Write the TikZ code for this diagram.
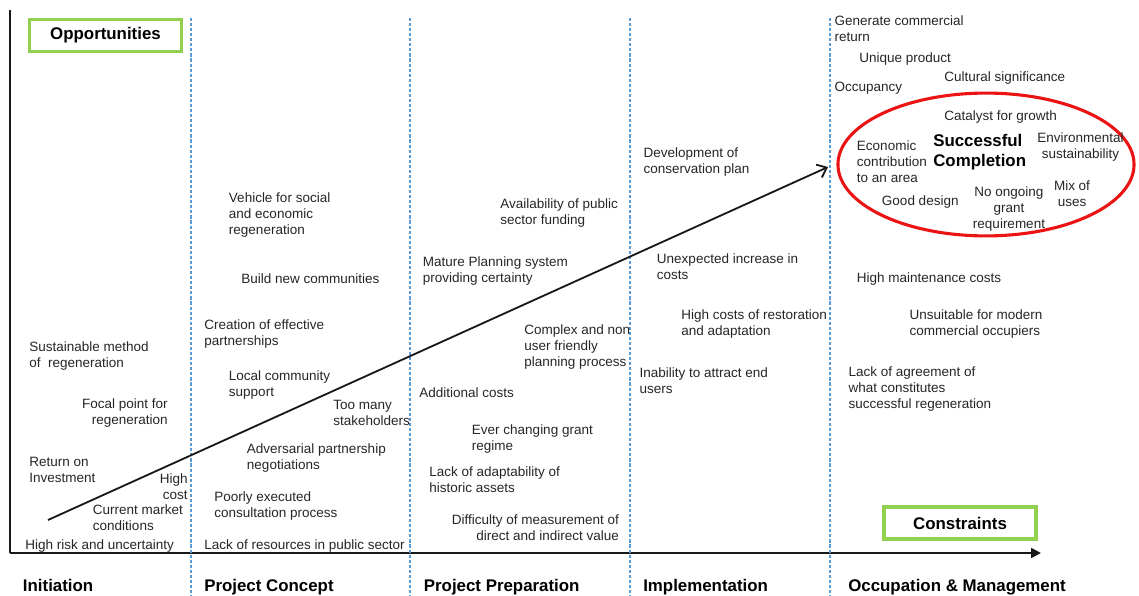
\documentclass[tikz,border=0pt]{standalone}
\usepackage{fontspec}
\setmainfont{Liberation Sans}
\usetikzlibrary{arrows.meta,shapes.geometric}

\definecolor{phaseblue}{RGB}{91,155,213}
\definecolor{taggreen}{RGB}{146,208,80}
\definecolor{goalred}{RGB}{235,20,20}

\begin{document}
\begin{tikzpicture}[x=0.025cm, y=-0.025cm,
    txt/.style={font=\fontsize{9.6}{11.4}\selectfont, text=black!85, inner sep=0pt, anchor=west, align=left, yshift=-0.6pt},
    rtxt/.style={txt, anchor=east, align=right},
    ctxt/.style={txt, anchor=center, align=center},
    phase/.style={font=\fontsize{12}{14}\selectfont\bfseries, inner sep=0pt, anchor=base west},
    tagbox/.style={draw=taggreen, line width=2.2pt, font=\fontsize{12}{14}\selectfont\bfseries, minimum width=3.8cm, minimum height=0.8cm},
    divider/.style={draw=phaseblue, line width=0.9pt, dash pattern=on 2.2pt off 1.4pt},
    axis/.style={line width=1.4pt, black!90},
    trend/.style={line width=1.3pt, black!90, -{Straight Barb[length=6pt,width=10pt]}}]
  \useasboundingbox (0,0) rectangle (1139,596);

  % Osy - time and scale
  \coordinate (top) at (10,10);
  \coordinate (origin) at (10,553);
  \coordinate (xend) at (1041,553);
  \draw[axis] (top) -- (origin);
  \draw[axis, -{Triangle[length=7pt,width=7pt]}] (origin) -- (xend);

  % Phase dividers
  \draw[divider] (191,18) -- (191,596);
  \draw[divider] (410,18) -- (410,596);
  \draw[divider] (630,18) -- (630,596);
  \draw[divider] (830,18) -- (830,596);

  % Tags - Opportunities / Constraints
  \node[tagbox] (opp) at (105.5,35.5) {Opportunities};
  \node[tagbox] (con) at (960,523) {Constraints};

  % Phases
  \node[phase] (ini) at (22.7,591) {Initiation};
  \node[phase] (pcon) at (204,591) {Project Concept};
  \node[phase] (pprep) at (423.6,591) {Project Preparation};
  \node[phase] (impl) at (643,591) {Implementation};
  \node[phase] (occ) at (848,591) {Occupation \& Management};

  % Trend line
  \coordinate (start) at (48,520);
  \coordinate (finish) at (828,167);
  \draw[trend] (start) -- (finish);

  % Initiation
  \node[txt] (sustain) at (29,354.7) {Sustainable method\\of~ regeneration};
  \node[rtxt] (focal) at (168,412.5) {Focal point for\\regeneration};
  \node[txt] (roi) at (29,469.2) {Return on\\Investment};
  \node[rtxt] (highcost) at (188,486) {High\\cost};
  \node[txt] (market) at (92.7,517) {Current market\\conditions};
  \node[txt] (risk) at (25,545) {High risk and uncertainty};

  % Project Concept
  \node[txt] (vehicle) at (228.7,213.8) {Vehicle for social\\and economic\\regeneration};
  \node[txt] (build) at (241,277.7) {Build new communities};
  \node[txt] (creation) at (204,333) {Creation of effective\\partnerships};
  \node[txt] (local) at (228.7,383.8) {Local community\\support};
  \node[txt] (toomany) at (333,412) {Too many\\stakeholders};
  \node[txt] (advers) at (246.7,457) {Adversarial partnership\\negotiations};
  \node[txt] (poorly) at (214,504.8) {Poorly executed\\consultation process};
  \node[txt] (lackres) at (204,545) {Lack of resources in public sector};

  % Project Preparation
  \node[txt] (avail) at (500,212) {Availability of public\\sector funding};
  \node[txt] (mature) at (422.7,269.7) {Mature Planning system\\providing certainty};
  \node[txt] (complex) at (524,346.3) {Complex and non\\user friendly\\planning process};
  \node[txt] (addcost) at (419,391.7) {Additional costs};
  \node[txt] (grant) at (471.7,438) {Ever changing grant\\regime};
  \node[txt] (adapt) at (429,479) {Lack of adaptability of\\historic assets};
  \node[rtxt] (measure) at (619.3,526.5) {Difficulty of measurement of\\direct and indirect value};

  % Implementation
  \node[txt] (develop) at (643.3,161.3) {Development of\\conservation plan};
  \node[txt] (unexpect) at (656.7,266.3) {Unexpected increase in\\costs};
  \node[txt] (restore) at (681,322.7) {High costs of restoration\\and adaptation};
  \node[txt] (inability) at (639.3,380.3) {Inability to attract end\\users};

  % Occupation & Management
  \node[txt] (generate) at (834.3,27.5) {Generate commercial\\return};
  \node[txt] (unique) at (859,57.7) {Unique product};
  \node[txt] (cultural) at (944,77.3) {Cultural significance};
  \node[txt] (occupancy) at (834.3,87.3) {Occupancy};
  \node[txt] (maint) at (856.7,277.7) {High maintenance costs};
  \node[txt] (unsuit) at (909.3,323) {Unsuitable for modern\\commercial occupiers};
  \node[txt] (agree) at (848.3,388.4) {Lack of agreement of\\what constitutes\\successful regeneration};

  % Ellipse - Successful Completion
  \node[ellipse, draw=goalred, line width=2.2pt, inner sep=0pt, minimum width=7.4cm, minimum height=3.57cm] (goal) at (986,164.5) {};
  \node[txt] (catalyst) at (944,115.7) {Catalyst for growth};
  \node[txt, font=\fontsize{12}{14.2}\selectfont\bfseries, text=black] (success) at (933,151.7) {Successful\\Completion};
  \node[txt] (economic) at (856.7,160.6) {Economic\\contribution\\to an area};
  \node[ctxt] (environ) at (1080.5,145.7) {Environmental\\sustainability};
  \node[txt] (gooddesign) at (881.7,201) {Good design};
  \node[ctxt] (nogrant) at (1009,208.6) {No ongoing\\grant\\requirement};
  \node[ctxt] (mix) at (1072,192.7) {Mix of\\uses};
\end{tikzpicture}
\end{document}
